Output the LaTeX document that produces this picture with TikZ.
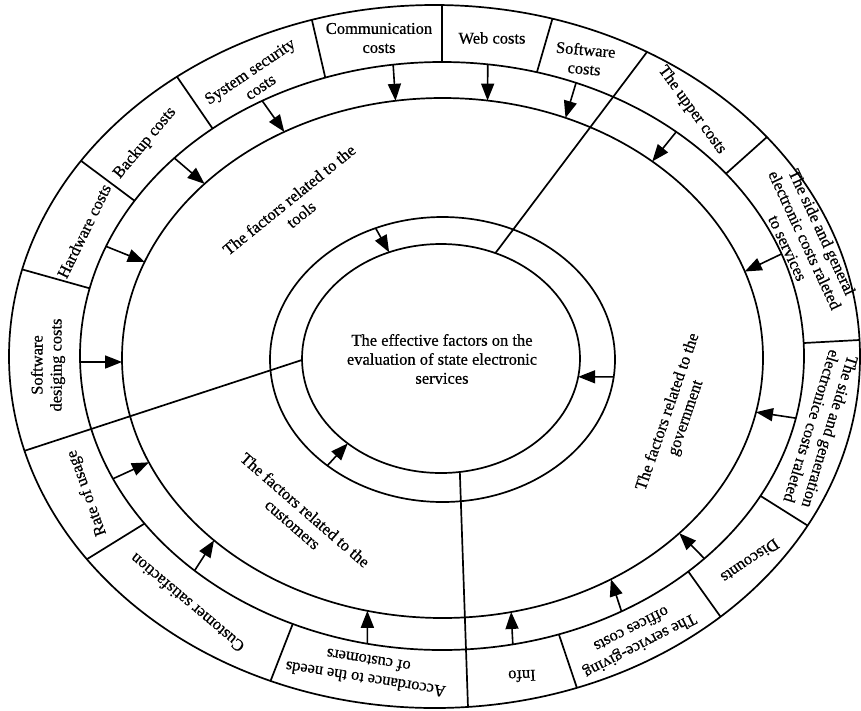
\documentclass[tikz,border=0pt]{standalone}
\usepackage{fontspec}
\setmainfont{Liberation Serif}[FakeBold=0.6]
\usetikzlibrary{arrows.meta}
\def\cxA{434.5}\def\cyA{356.5}\def\rxA{425.5}\def\ryA{351.5}
\def\cxB{442}\def\cyB{356}\def\rxB{362}\def\ryB{294}
\def\cxC{442.5}\def\cyC{358}\def\rxC{320.5}\def\ryC{260}
\def\cxD{442.5}\def\cyD{359.5}\def\rxD{172.5}\def\ryD{142.5}
\def\cxE{441}\def\cyE{358.5}\def\rxE{139}\def\ryE{114.5}
\newcommand\defpt[4]{%
  \pgfmathsetmacro\myt{atan2((#4-\csname cy#2\endcsname)/\csname ry#2\endcsname,(#3-\csname cx#2\endcsname)/\csname rx#2\endcsname)}%
  \pgfmathsetmacro\myxx{\csname cx#2\endcsname+\csname rx#2\endcsname*cos(\myt)}%
  \pgfmathsetmacro\myyy{\csname cy#2\endcsname+\csname ry#2\endcsname*sin(\myt)}%
  \coordinate (#1) at (\myxx,\myyy);%
}
\newcommand\lbfont{\fontsize{16.5}{19}\selectfont}
\begin{document}
\begin{tikzpicture}[x=1pt,y=-1pt,
  ring/.style={line width=1.7pt},
  sep/.style={line width=1.7pt},
  arr/.style={line width=1.6pt,-{Triangle[length=17pt,width=13pt]}},
  lbl/.style={align=center,inner sep=0pt,font=\lbfont}]
\useasboundingbox (0,0) rectangle (861,710);
% ellipses
\draw[ring] (\cxA,\cyA) ellipse [x radius=\rxA, y radius=\ryA];
\draw[ring] (\cxB,\cyB) ellipse [x radius=\rxB, y radius=\ryB];
\draw[ring] (\cxC,\cyC) ellipse [x radius=\rxC, y radius=\ryC];
\draw[ring] (\cxD,\cyD) ellipse [x radius=\rxD, y radius=\ryD];
\draw[ring] (\cxE,\cyE) ellipse [x radius=\rxE, y radius=\ryE];
% outer separators
\defpt{s1o}{A}{313}{23}\defpt{s1i}{B}{325}{77}
\defpt{s2o}{A}{442}{7}\defpt{s2i}{B}{442}{62}
\defpt{s3o}{A}{552}{20}\defpt{s3i}{B}{537}{72}
\defpt{s4o}{A}{770}{135}\defpt{s4i}{B}{727}{173}
\defpt{s5o}{A}{859}{340}\defpt{s5i}{B}{804}{343}
\defpt{s6o}{A}{813}{528}\defpt{s6i}{B}{763}{497}
\defpt{s7o}{A}{723}{619}\defpt{s7i}{B}{690}{573}
\defpt{s8o}{A}{577}{688}\defpt{s8i}{B}{560}{637}
\defpt{s9o}{A}{272}{678}\defpt{s9i}{B}{291}{627}
\defpt{s10o}{A}{89}{558}\defpt{s10i}{B}{142}{525}
\defpt{s11o}{A}{25}{270}\defpt{s11i}{B}{88}{288}
\defpt{s12o}{A}{85}{163}\defpt{s12i}{B}{133}{200}
\defpt{s13o}{A}{180}{80}\defpt{s13i}{B}{212}{128}
\foreach \i in {1,...,13} {\draw[sep] (s\i o) -- (s\i i);}
% radial lines
\defpt{lao}{A}{647}{52}\defpt{lai}{E}{497}{250}
\defpt{lbo}{A}{28}{450}\defpt{lbi}{E}{300}{360}
\defpt{lco}{A}{468}{707}\defpt{lci}{E}{460}{473}
\draw[sep] (lao) -- (lai);
\draw[sep] (lbo) -- (lbi);
\draw[sep] (lco) -- (lci);
% arrows outer
\defpt{a1s}{B}{393}{64}\defpt{a1e}{C}{395}{98}
\defpt{a2s}{B}{488}{63}\defpt{a2e}{C}{488}{98}
\defpt{a3s}{B}{575}{85}\defpt{a3e}{C}{567}{115}
\defpt{a4s}{B}{675}{133}\defpt{a4e}{C}{657}{157}
\defpt{a5s}{B}{778}{255}\defpt{a5e}{C}{750}{270}
\defpt{a6s}{B}{795}{418}\defpt{a6e}{C}{761}{413}
\defpt{a7s}{B}{705}{559}\defpt{a7e}{C}{683}{536}
\defpt{a8s}{B}{622}{612}\defpt{a8e}{C}{613}{582}
\defpt{a9s}{B}{513}{645}\defpt{a9e}{C}{512}{615}
\defpt{a10s}{B}{367}{645}\defpt{a10e}{C}{367}{612}
\defpt{a11s}{B}{193}{572}\defpt{a11e}{C}{212}{542}
\defpt{a12s}{B}{115}{478}\defpt{a12e}{C}{147}{463}
\defpt{a13s}{B}{80}{362}\defpt{a13e}{C}{122}{362}
\defpt{a14s}{B}{108}{247}\defpt{a14e}{C}{145}{262}
\defpt{a15s}{B}{177}{160}\defpt{a15e}{C}{202}{182}
\defpt{a16s}{B}{263}{102}\defpt{a16e}{C}{283}{130}
\foreach \i in {1,...,16} {\draw[arr] (a\i s) -- (a\i e);}
% arrows inner
\defpt{b1s}{D}{375}{227}\defpt{b1e}{E}{388}{250}
\defpt{b2s}{D}{615}{377}\defpt{b2e}{E}{580}{377}
\defpt{b3s}{D}{328}{465}\defpt{b3e}{E}{346}{445}
\foreach \i in {1,2,3} {\draw[arr] (b\i s) -- (b\i e);}
% outer labels
\node[lbl] (t1) at (379,38) {Communication\\costs};
\node[lbl] (t2) at (492,38) {Web costs};
\node[lbl,rotate=-5] (t3) at (585,59) {Software\\costs};
\node[lbl,rotate=-54] (t4) at (692,110) {The upper costs};
\node[lbl,rotate=-65] (t5) at (805,240) {The side and general\\electronic costs raleted\\to services};
\node[lbl,rotate=-107] (t6) at (821,429) {The side and generation\\electronice costs raleted};
\node[lbl,rotate=214] (t7) at (750,561) {Discounts};
\node[lbl,rotate=207] (t8) at (636,638) {The service-giving\\offices costs};
\node[lbl,rotate=182] (t9) at (522,676) {Info};
\node[lbl,rotate=171] (t10) at (367,670) {Accordance to the needs\\of customers};
\node[lbl,rotate=140] (t11) at (187,603) {Customer satisfaction};
\node[lbl,rotate=110] (t12) at (87,493) {Rate of usage};
\node[lbl,rotate=90] (t13) at (48,365) {Software\\desiging costs};
\node[lbl,rotate=64] (t14) at (84,231) {Hardware costs};
\node[lbl,rotate=50] (t15) at (145,143) {Backup costs};
\node[lbl,rotate=34] (t16) at (255,79) {System security\\costs};
% middle labels
\node[lbl,rotate=39] (m1) at (295,207) {The factors related to the\\tools};
\node[lbl,rotate=-41] (m2) at (299,517) {The factors related to the\\customers};
\node[lbl,rotate=71] (m3) at (677,415) {The factors related to the\\government};
% centre
\node[lbl] (c) at (442,359) {The effective factors on the\\evaluation of state electronic\\services};
\end{tikzpicture}
\end{document}
